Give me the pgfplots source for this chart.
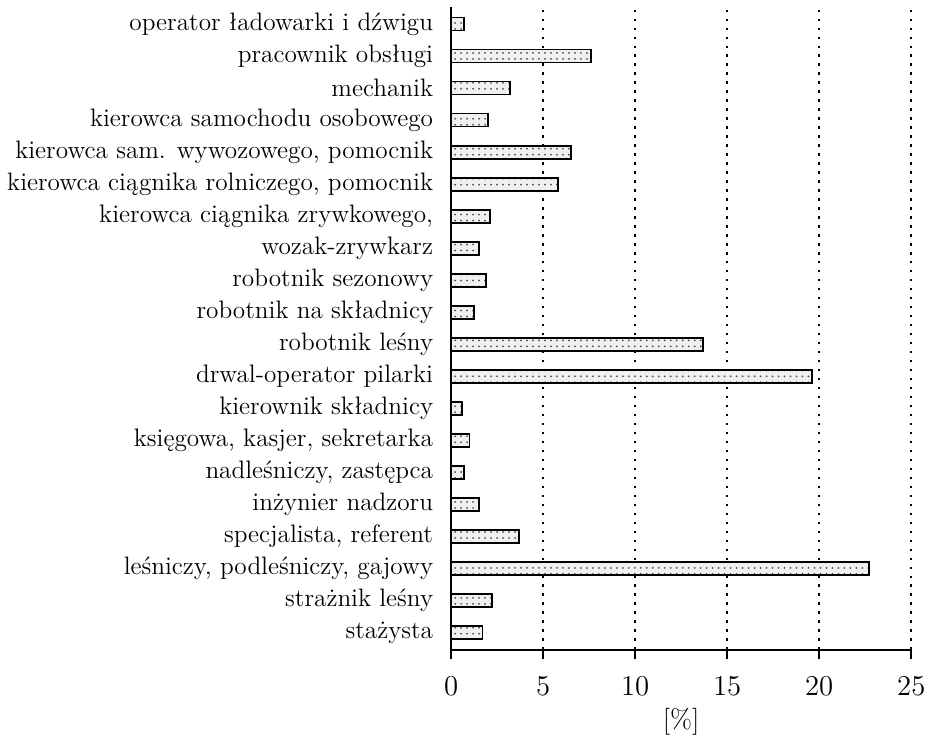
\documentclass[border=0pt]{standalone}
\usepackage{fontspec}
\usepackage{pgfplots}
\pgfplotsset{compat=1.18}
\usetikzlibrary{patterns}
\begin{document}
\begin{tikzpicture}
\begin{axis}[
 scale only axis, width=230.5pt, height=322pt,
 xbar, bar width=6.5pt,
 xmin=0, xmax=25, ymin=-0.53, ymax=19.53,
 axis x line*=bottom, axis y line*=left,
 axis line style={line width=1pt, black},
 xtick={0,5,...,25},
 ytick={0,...,19},
 yticklabels={stażysta, strażnik leśny, {leśniczy, podleśniczy, gajowy}, {specjalista, referent}, inżynier nadzoru, {nadleśniczy, zastępca}, {księgowa, kasjer, sekretarka}, kierownik składnicy, drwal-operator pilarki, robotnik leśny, robotnik na składnicy, robotnik sezonowy, wozak-zrywkarz, {kierowca ciągnika zrywkowego,}, {kierowca ciągnika rolniczego, pomocnik}, {kierowca sam. wywozowego, pomocnik}, kierowca samochodu osobowego, mechanik, pracownik obsługi, operator ładowarki i dźwigu},
 ytick style={draw=none},
 yticklabel style={font=\fontsize{12.65}{14}\selectfont, anchor=east, xshift=-1pt},
 xticklabel style={font=\fontsize{13.5}{16}\selectfont, yshift=-5.5pt},
 xtick style={line width=1pt, black}, major tick length=4.5pt, tick align=outside,
 xmajorgrids, major grid style={line width=1pt, dash pattern=on 1.2pt off 3.3pt, black},
 xlabel={[\%]}, xlabel style={font=\fontsize{13.5}{16}\selectfont, yshift=0.5pt},
]
\addplot[draw=black, line width=0.9pt, fill=gray!12, postaction={pattern=dots, pattern color=black!70}] coordinates {
(1.7,0) (2.2,1) (22.7,2) (3.7,3) (1.5,4) (0.7,5) (1.0,6) (0.6,7) (19.6,8) (13.7,9)
(1.25,10) (1.9,11) (1.5,12) (2.1,13) (5.8,14) (6.5,15) (2.0,16) (3.2,17) (7.6,18) (0.7,19)};
\end{axis}
\path ([yshift=3.5pt]current axis.north) ([yshift=-46pt]current axis.south)
      ([xshift=-226pt]current axis.west) ([xshift=9.5pt]current axis.east);
\end{tikzpicture}
\end{document}
